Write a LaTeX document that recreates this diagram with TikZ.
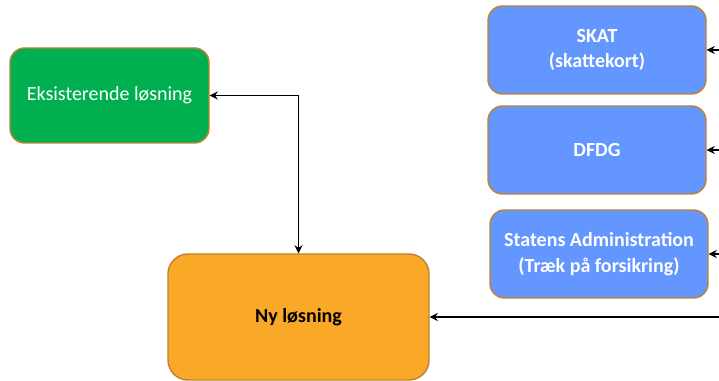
\documentclass[tikz,border=0pt]{standalone}
\usepackage{fontspec}
\setmainfont{Carlito}
\usetikzlibrary{arrows.meta}
\definecolor{leafgreen}{RGB}{0, 176, 80}
\definecolor{skyblue}{RGB}{100, 150, 255}
\definecolor{amber}{RGB}{250, 168, 40}
\definecolor{rimbrown}{RGB}{190, 130, 50}

\begin{document}
\begin{tikzpicture}[x=0.75pt, y=-0.75pt,
    box/.style={draw=rimbrown, line width=1.1pt, rounded corners=11pt, align=center,
                inner sep=0pt, font=\fontsize{15}{19}\selectfont},
    boldbox/.style={box, font=\fontsize{15}{19}\selectfont\bfseries},
    link/.style={draw=black, line width=1.4pt, -{Stealth[length=6pt, width=6pt]}}]
            \useasboundingbox (0, 0) rectangle (719, 381);
            % Existing and new solution
            \node[box, fill=leafgreen, text=white, minimum width=149.25pt, minimum height=71.25pt]
                 (exist) at (109.5, 95.5) {Eksisterende løsning};
            \node[boldbox, fill=amber, text=black,
                 rounded corners=15pt, minimum width=195.75pt, minimum height=94.5pt]
                 (newsol) at (298.5, 317) {Ny løsning};
            % Sources on the right
            \node[boldbox, fill=skyblue, text=white, minimum width=163.5pt, minimum height=66pt]
                 (skat) at (597, 50) {SKAT\\(skattekort)};
            \node[boldbox, fill=skyblue, text=white, minimum width=163.5pt, minimum height=66pt]
                 (dfdg) at (597, 150) {DFDG};
            \node[boldbox, fill=skyblue, text=white, minimum width=163.5pt, minimum height=66pt]
                 (statens) at (599, 254) {Statens Administration\\(Træk på forsikring)};
            % Loose ends at the right edge
            \coordinate (inskat)    at (719, 50);
            \coordinate (indfdg)    at (719, 150);
            \coordinate (instatens) at (719, 254);
            \coordinate (innew)     at (719, 317);
            % Connectors
            \draw[link, {Stealth[length=6pt, width=6pt]}-{Stealth[length=6pt, width=6pt]}]
                 (newsol.north) |- (exist.east);
            \draw[link] (inskat)    -- (skat.east);
            \draw[link] (indfdg)    -- (dfdg.east);
            \draw[link] (instatens) -- (statens.east);
            \draw[link] (innew)     -- (newsol.east);
        \end{tikzpicture}
\end{document}
